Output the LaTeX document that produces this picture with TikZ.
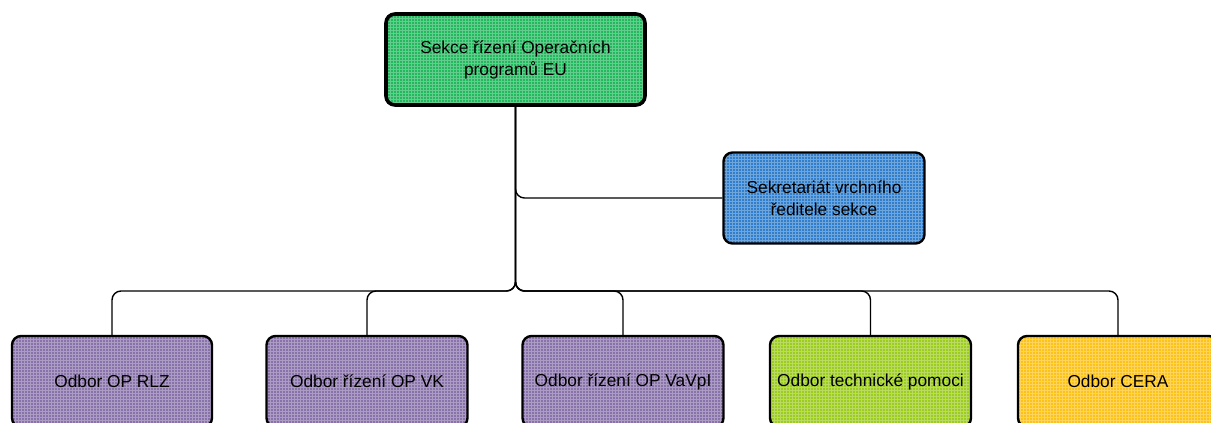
\documentclass[tikz,border=0pt]{standalone}
\usepackage{fontspec}
\setmainfont{Liberation Sans}
\usepackage{xcolor}
\usetikzlibrary{patterns}
\definecolor{sekcegreen}{RGB}{34,184,94}
\definecolor{sekrblue}{RGB}{48,126,204}
\definecolor{odborpurple}{RGB}{136,114,170}
\definecolor{odborlime}{RGB}{156,204,30}
\definecolor{odboryellow}{RGB}{253,194,24}

\begin{document}
\begin{tikzpicture}[x=1pt, y=-1pt,
  box/.style={draw, line width=2.4pt, rounded corners=9pt, minimum width=200pt, minimum height=91pt, align=center, font=\fontsize{17.3}{22}\selectfont, preaction={fill=#1}, pattern=grid, pattern color=white!30!#1},
  conn/.style={line width=1.4pt, rounded corners=9pt}]
\clip (0, 0) rectangle (1211, 423);
\useasboundingbox (0, 0) rectangle (1211, 423);
\node [box=sekcegreen, line width=3.6pt, minimum width=259pt] (sekce) at (515.5, 59.5) {Sekce řízení Operačních\\programů EU};
\node [box=sekrblue, minimum width=201pt] (sekr) at (824, 198) {Sekretariát vrchního\\ředitele sekce};
\coordinate (bus) at (516, 291);
\node [box=odborpurple] (rlz) at (112, 381.5) {Odbor OP RLZ};
\node [box=odborpurple, minimum width=201pt] (vk) at (367, 381.5) {Odbor řízení OP VK};
\node [box=odborpurple, minimum width=201pt] (vavpi) at (623, 381.5) {Odbor řízení OP VaVpI};
\node [box=odborlime, minimum width=201pt] (tp) at (870.5, 381.5) {Odbor technické pomoci};
\node [box=odboryellow] (cera) at (1118, 381.5) {Odbor CERA};
\draw [conn] (sekce.south) |- (sekr.west);
\foreach \n in {rlz, vk, vavpi, tp, cera}
  \draw [conn] (sekce.south) |- (\n.north |- bus) -- (\n.north);
\end{tikzpicture}
\end{document}
